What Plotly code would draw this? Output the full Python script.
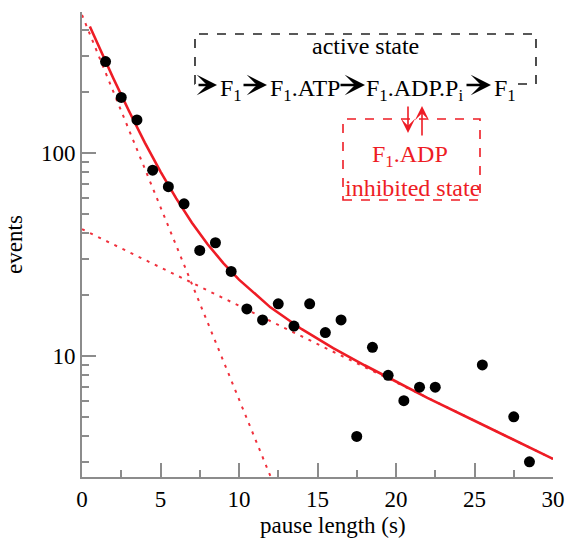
import numpy as np
import plotly.graph_objects as go

# pause histogram (bin centres, counts)
pause_s = [1.5, 2.5, 3.5, 4.5, 5.5, 6.5, 7.5, 8.5, 9.5, 10.5, 11.5, 12.5, 13.5,
           14.5, 15.5, 16.5, 17.5, 18.5, 19.5, 20.5, 21.5, 22.5, 25.5, 27.5, 28.5]
events = [281, 187, 145, 82, 68, 56, 33, 36, 26, 17, 15, 18, 14,
          18, 13, 15, 4, 11, 8, 6, 7, 7, 9, 5, 3]

# double-exponential fit
fit_x = [0.5, 1, 2, 3, 4, 5, 6, 7, 8, 9, 10, 12, 14, 16, 18, 20, 22, 25, 30]
fit_y = [418, 343, 232, 160, 112, 80.7, 59.5, 45.2, 35.4, 28.6, 23.7, 17.3,
         13.5, 10.9, 8.97, 7.46, 6.2, 4.78, 3.1]

# single components (straight on log axis)
fast_x = [0, 12]
fast_y = [477, 2.55]
slow_x = [0, 30]
slow_y = [42, 3.1]

RED = "#ee1c25"
DOT_RED = "#f0303c"
AXIS_GREY = "#8c8c8c"
FONT = "Liberation Serif"

fig = go.Figure()
fig.add_trace(go.Scatter(x=fast_x, y=fast_y, mode="lines",
                         line=dict(color=DOT_RED, width=2, dash="3px,6px")))
fig.add_trace(go.Scatter(x=slow_x, y=slow_y, mode="lines",
                         line=dict(color=DOT_RED, width=2, dash="3px,6px")))
fig.add_trace(go.Scatter(x=fit_x, y=fit_y, mode="lines",
                         line=dict(color=RED, width=2.6)))
fig.add_trace(go.Scatter(x=pause_s, y=events, mode="markers",
                         marker=dict(color="black", size=11)))

# plot area in pixels: x 82..553, y 12..477
def P(px, py):
    return (px - 82) / 471, (477 - py) / 465

annotations = []

def text(px, py, s, color="black", size=23, xanchor="left"):
    x, y = P(px, py)
    annotations.append(dict(x=x, y=y, xref="paper", yref="paper", text=s,
                            showarrow=False, xanchor=xanchor, yanchor="middle",
                            font=dict(family=FONT, size=size, color=color)))

def arrow(x0, y0, x1, y1, color="black", width=2.6, size=1.3):
    hx, hy = P(x1, y1)
    annotations.append(dict(x=hx, y=hy, xref="paper", yref="paper", text="",
                            showarrow=True, ax=x0 - x1, ay=y0 - y1,
                            arrowhead=3, arrowsize=size, arrowwidth=width,
                            arrowcolor=color))

text(365, 46, "active state", size=24, xanchor="center")
text(218, 90, "F<sub>1</sub>", size=24)
text(268, 90, "F<sub>1</sub>.ATP", size=24)
text(364, 90, "F<sub>1</sub>.ADP.P<sub>i</sub>", size=24)
text(492, 90, "F<sub>1</sub>", size=24)
arrow(197, 85, 217, 85)
arrow(242, 85, 267, 85)
arrow(339, 85, 365, 85)
arrow(465, 85, 491, 85)

arrow(408, 105, 408, 133, color=RED, width=1.6, size=1.5)
arrow(422, 137, 422, 106, color=RED, width=1.6, size=1.5)
text(410, 156, "F<sub>1</sub>.ADP", color=RED, size=24, xanchor="center")
text(412, 188, "inhibited state", color=RED, size=24, xanchor="center")

# x-axis title sits a little right of centre in the reference
text(333, 525, "pause length (s)", size=23, xanchor="center")

def path(points):
    pts = [P(*p) for p in points]
    return "M " + " L ".join(f"{x:.4f},{y:.4f}" for x, y in pts)

shapes = [
    dict(type="path", xref="paper", yref="paper",
         path=path([(518, 84), (536, 84), (536, 34), (195, 34), (195, 84), (199, 84)]),
         line=dict(color="#222222", width=1.6, dash="dash")),
    dict(type="rect", xref="paper", yref="paper",
         x0=P(343, 0)[0], x1=P(480, 0)[0], y0=P(0, 200)[1], y1=P(0, 119)[1],
         line=dict(color=RED, width=1.6, dash="dash")),
]

fig.update_layout(
    width=566, height=539,
    margin=dict(l=82, r=13, t=12, b=62),
    plot_bgcolor="white", paper_bgcolor="white",
    showlegend=False,
    font=dict(family=FONT, size=23, color="black"),
    annotations=annotations,
    shapes=shapes,
)
fig.update_xaxes(
    range=[0, 30], showgrid=False, zeroline=False, automargin=False,
    showline=True, linecolor=AXIS_GREY, linewidth=2,
    ticks="inside", ticklen=14, tickwidth=1.5, tickcolor=AXIS_GREY,
    tick0=0, dtick=5,
    minor=dict(ticks="inside", ticklen=7, tickwidth=1.5, tickcolor=AXIS_GREY,
               tick0=0, dtick=2.5, showgrid=False),
    tickfont=dict(family=FONT, size=23, color="black"),
)
fig.update_yaxes(
    type="log", range=[np.log10(2.526), np.log10(493)],
    showgrid=False, zeroline=False, automargin=False,
    showline=True, linecolor=AXIS_GREY, linewidth=2,
    ticks="inside", ticklen=14, tickwidth=1.5, tickcolor=AXIS_GREY,
    tickvals=[10, 100], ticktext=["10", "100"],
    minor=dict(ticks="inside", ticklen=7, tickwidth=1.5, tickcolor=AXIS_GREY,
               tickvals=[3, 4, 5, 6, 7, 8, 9, 20, 30, 40, 50, 60, 70, 80, 90,
                         200, 300, 400], showgrid=False),
    tickfont=dict(family=FONT, size=23, color="black"),
    title=dict(text="events", font=dict(family=FONT, size=23), standoff=12),
)

# the page's default body margin would shift the 566x539 figure by 8px
fig.write_html("out.html", config={"displayModeBar": False},
               post_script="document.body.style.margin='0';")
